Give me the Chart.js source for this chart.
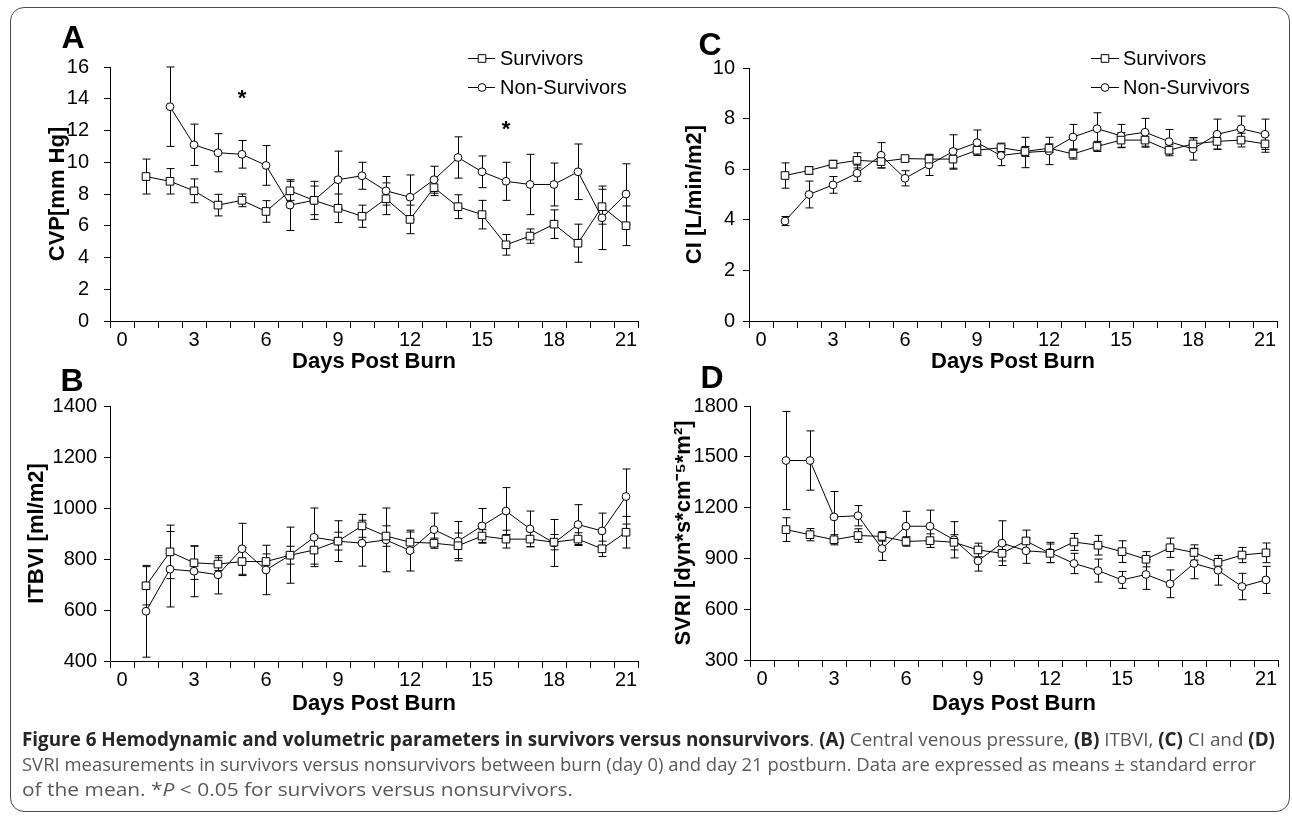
<!DOCTYPE html>
<html>
<head>
<meta charset="utf-8">
<script src="https://cdn.jsdelivr.net/npm/chart.js@4.4.1/dist/chart.umd.min.js"></script>
<style>
html,body{margin:0;padding:0;background:#fff;}
#wrap{position:relative;width:1292px;height:816px;overflow:hidden;background:#fff;}
canvas{position:absolute;left:0;top:0;}
#frame{position:absolute;left:10px;top:7px;width:1280px;height:805px;border:1.5px solid #4a4a4a;border-radius:14px;box-sizing:border-box;}
.letter{position:absolute;font:bold 32px "Liberation Sans",Arial,sans-serif;line-height:32px;transform:translate(-50%,-50%);color:#000;}
.cap{position:absolute;left:22px;white-space:nowrap;font-family:"Open Sans",sans-serif;font-size:19px;line-height:22px;color:#595959;transform-origin:0 50%;}
.cap b{color:#262626;font-weight:700;}
</style>
</head>
<body>
<div id="wrap">
  <div id="frame"></div>
  <canvas id="cA" width="1292" height="816"></canvas>
  <canvas id="cB" width="1292" height="816"></canvas>
  <canvas id="cC" width="1292" height="816"></canvas>
  <canvas id="cD" width="1292" height="816"></canvas>
  <div class="letter" style="left:73px;top:37px">A</div>
  <div class="letter" style="left:710px;top:44px">C</div>
  <div class="letter" style="left:72px;top:380px">B</div>
  <div class="letter" style="left:712px;top:377px">D</div>
  <div class="cap" id="cap1" style="top:728px"><b>Figure 6 Hemodynamic and volumetric parameters in survivors versus nonsurvivors</b>. <b>(A)</b> Central venous pressure, <b>(B)</b> ITBVI, <b>(C)</b> CI and <b>(D)</b></div>
  <div class="cap" id="cap2" style="top:753px">SVRI measurements in survivors versus nonsurvivors between burn (day 0) and day 21 postburn. Data are expressed as means ± standard error</div>
  <div class="cap" id="cap3" style="top:778px">of the mean. *<i>P</i> &lt; 0.05 for survivors versus nonsurvivors.</div>
</div>
<script>
// ---------------- DATA ----------------
const days = [1,2,3,4,5,6,7,8,9,10,11,12,13,14,15,16,17,18,19,20,21];
const xTickLabels = [0,3,6,9,12,15,18,21];
const seriesNames = ['Survivors','Non-Survivors'];

// Panel A: CVP [mm Hg]
const cvpTicks = [0,2,4,6,8,10,12,14,16];
const cvpSurv   = [9.1,8.8,8.2,7.3,7.6,6.9,8.2,7.6,7.1,6.6,7.7,6.4,8.4,7.2,6.7,4.8,5.35,6.1,4.9,7.2,6.0];
const cvpSurvSE = [1.1,0.8,0.75,0.68,0.4,0.68,0.6,0.9,0.9,0.7,1.0,0.9,0.5,0.75,0.9,0.65,0.45,0.9,1.2,1.1,1.25];
const cvpNon    = [null,13.5,11.1,10.6,10.5,9.8,7.3,7.6,8.9,9.15,8.2,7.8,8.9,10.3,9.4,8.8,8.6,8.6,9.4,6.5,8.0];
const cvpNonSE  = [null,2.5,1.3,1.2,0.87,1.25,1.6,1.2,1.8,0.85,0.9,1.4,0.85,1.3,1.0,1.2,1.9,1.35,1.75,2.0,1.9];
const starDays  = [5,16];
const starCVP   = [14.4,12.5];

// Panel B: ITBVI [ml/m2]
const itbviTicks = [400,600,800,1000,1200,1400];
const itbviSurv   = [695,828,785,780,790,790,815,835,870,930,890,866,862,852,890,878,878,866,878,840,905];
const itbviSurvSE = [75,105,65,25,55,30,35,55,35,45,40,40,20,50,25,35,30,30,25,30,62];
const itbviNon    = [595,760,752,738,840,757,815,885,870,862,875,833,915,870,930,988,918,863,935,910,1045];
const itbviNonSE  = [180,148,100,75,100,97,110,115,80,90,125,80,65,77,68,92,70,92,78,70,108];

// Panel C: CI [L/min/m2]
const ciTicks = [0,2,4,6,8,10];
const ciSurv   = [5.75,5.95,6.2,6.35,6.3,6.42,6.4,6.4,6.75,6.85,6.7,6.83,6.6,6.9,7.15,7.15,6.75,7.0,7.1,7.15,7.0];
const ciSurvSE = [0.5,0.15,0.15,0.3,0.25,0.1,0.15,0.4,0.2,0.18,0.2,0.17,0.2,0.2,0.3,0.28,0.22,0.25,0.3,0.27,0.33];
const ciNon    = [3.95,5.0,5.38,5.84,6.55,5.64,6.17,6.7,7.05,6.54,6.66,6.72,7.27,7.6,7.32,7.46,7.09,6.8,7.38,7.6,7.38];
const ciNonSE  = [0.18,0.53,0.33,0.32,0.5,0.3,0.42,0.66,0.5,0.4,0.6,0.54,0.5,0.63,0.45,0.55,0.48,0.44,0.6,0.5,0.6];

// Panel D: SVRI
const svriTicks = [300,600,900,1200,1500,1800];
const svriSurv   = [1070,1040,1010,1035,1030,1000,1005,995,950,930,1003,930,997,978,940,895,963,935,877,920,933];
const svriSurvSE = [70,36,30,40,28,28,40,45,40,45,64,55,50,58,64,45,57,45,40,45,58];
const svriNon    = [1478,1478,1145,1152,958,1090,1090,1010,885,990,945,935,870,828,773,805,750,870,830,734,773];
const svriNonSE  = [290,175,150,60,70,88,95,107,60,132,74,60,60,68,50,88,82,90,88,78,80];

// ---------------- STYLE / LAYOUT ----------------
const FONT = "'Liberation Sans', Arial, Helvetica, sans-serif";
const W = 1292, H = 816;
const SQ_R = 5.4, CI_R = 3.9, CAP = 4;

const xTickValues = [];
for (let v = -0.5; v <= 21.5 + 1e-9; v += 0.5) xTickValues.push(Math.round(v * 2) / 2);

const errorBarPlugin = {
  id: 'errBars',
  beforeDatasetsDraw(chart, args, opts) {
    const ctx = chart.ctx, xs = chart.scales.x, ys = chart.scales.y;
    ctx.save();
    ctx.strokeStyle = '#000';
    ctx.lineWidth = 1;
    opts.series.forEach(s => {
      days.forEach((d, i) => {
        const m = s.mean[i], e = s.se[i];
        if (m === null || e === null) return;
        const x = Math.round(xs.getPixelForValue(d)) + 0.5;
        const yt = ys.getPixelForValue(m + e), yb = ys.getPixelForValue(m - e);
        ctx.beginPath();
        ctx.moveTo(x, yt); ctx.lineTo(x, yb);
        ctx.moveTo(x - CAP, yt); ctx.lineTo(x + CAP, yt);
        ctx.moveTo(x - CAP, yb); ctx.lineTo(x + CAP, yb);
        ctx.stroke();
      });
    });
    ctx.restore();
  }
};

function drawMarker(ctx, style, x, y) {
  ctx.beginPath();
  if (style === 'rect') {
    const h = SQ_R * Math.SQRT1_2;
    ctx.rect(x - h, y - h, 2 * h, 2 * h);
  } else {
    ctx.arc(x, y, CI_R, 0, Math.PI * 2);
  }
  ctx.fillStyle = '#fff';
  ctx.fill();
  ctx.lineWidth = 1;
  ctx.strokeStyle = '#000';
  ctx.stroke();
}

const legendPlugin = {
  id: 'panelLegend',
  afterDraw(chart, args, opts) {
    if (!opts.show) return;
    const ctx = chart.ctx;
    ctx.save();
    const styles = ['rect', 'circle'];
    seriesNames.forEach((name, i) => {
      const y = opts.rows[i];
      ctx.beginPath();
      ctx.strokeStyle = '#000'; ctx.lineWidth = 1;
      ctx.moveTo(opts.x0, y + 0.5); ctx.lineTo(opts.x1, y + 0.5); ctx.stroke();
      drawMarker(ctx, styles[i], opts.mx, y + 0.5);
      ctx.fillStyle = '#000';
      ctx.font = '20px ' + FONT;
      ctx.textBaseline = 'middle';
      ctx.textAlign = 'left';
      ctx.fillText(name, opts.tx, y + 1);
    });
    ctx.restore();
  }
};

const starPlugin = {
  id: 'stars',
  afterDraw(chart, args, opts) {
    if (!opts.days) return;
    const ctx = chart.ctx, xs = chart.scales.x, ys = chart.scales.y;
    ctx.save();
    ctx.fillStyle = '#000';
    ctx.font = 'bold 22px ' + FONT;
    ctx.textAlign = 'center';
    ctx.textBaseline = 'alphabetic';
    opts.days.forEach((d, i) => {
      ctx.fillText('*', xs.getPixelForValue(d), ys.getPixelForValue(opts.values[i]) + 13);
    });
    ctx.restore();
  }
};

function makePanel(id, p) {
  const TL = 26.4; // title line height (22px * 1.2)
  const scaleLeft = p.yTitleX - TL / 2;
  const YW = p.area.left - scaleLeft;
  const XH = p.xTitleOff + TL / 2;
  const mk = (vals) => days.map((d, i) => ({x: d, y: vals[i]}));
  new Chart(document.getElementById(id), {
    type: 'line',
    data: {
      datasets: [
        {label: seriesNames[0], data: mk(p.surv), borderColor: '#000', borderWidth: 1,
         pointStyle: 'rect', pointRadius: SQ_R, pointBackgroundColor: '#fff', pointBorderColor: '#000',
         pointBorderWidth: 1, tension: 0, fill: false},
        {label: seriesNames[1], data: mk(p.non), borderColor: '#000', borderWidth: 1,
         pointStyle: 'circle', pointRadius: CI_R, pointBackgroundColor: '#fff', pointBorderColor: '#000',
         pointBorderWidth: 1, tension: 0, fill: false}
      ]
    },
    options: {
      responsive: false, animation: false, devicePixelRatio: 1,
      events: [],
      layout: {padding: {left: scaleLeft, top: p.area.top, right: W - p.area.right, bottom: H - p.area.bottom - XH}},
      plugins: {
        legend: {display: false}, tooltip: {enabled: false},
        errBars: {series: [{mean: p.surv, se: p.survSE}, {mean: p.non, se: p.nonSE}]},
        panelLegend: p.legend || {show: false},
        stars: p.stars || {}
      },
      scales: {
        x: {
          type: 'linear', min: -0.5, max: 21.5,
          afterFit: s => { s.height = XH; },
          afterBuildTicks: s => { s.ticks = xTickValues.map(v => ({value: v})); },
          ticks: {autoSkip: false, maxRotation: 0, minRotation: 0, padding: 0, color: '#000',
                  font: {family: FONT, size: 20},
                  callback: v => xTickLabels.includes(v) ? String(v) : ''},
          grid: {drawOnChartArea: false, drawTicks: true, tickLength: 7, tickWidth: 1,
                 tickColor: c => (c.tick && Number.isInteger(c.tick.value)) ? 'rgba(0,0,0,0)' : '#000'},
          border: {display: true, color: '#000', width: 1},
          title: {display: true, text: 'Days Post Burn', color: '#000',
                  font: {family: FONT, size: 22, weight: 'bold'}, padding: {top: 0, bottom: 0}}
        },
        y: {
          type: 'linear', min: p.yMin, max: p.yMax,
          afterFit: s => { s.width = YW; },
          afterBuildTicks: s => { s.ticks = p.yTicks.map(v => ({value: v})); },
          ticks: {padding: p.tickPad, color: '#000', font: {family: FONT, size: 20},
                  callback: v => String(v)},
          grid: {drawOnChartArea: false, drawTicks: true, tickLength: 6, tickColor: '#000', tickWidth: 1},
          border: {display: true, color: '#000', width: 1},
          title: {display: true, text: p.yTitle, color: '#000',
                  font: {family: FONT, size: 22, weight: 'bold'}, padding: {top: 0, bottom: 0}}
        }
      }
    },
    plugins: [errorBarPlugin, legendPlugin, starPlugin]
  });
}

makePanel('cA', {
  area: {left: 110, top: 67, right: 638, bottom: 321},
  yMin: 0, yMax: 16, yTicks: cvpTicks, yTitle: 'CVP[mm Hg]', yTitleX: 58, tickPad: 15, xTitleOff: 41,
  surv: cvpSurv, survSE: cvpSurvSE, non: cvpNon, nonSE: cvpNonSE,
  legend: {show: true, x0: 468, x1: 495, mx: 482, tx: 500, rows: [58, 87]},
  stars: {days: starDays, values: starCVP}
});
makePanel('cC', {
  area: {left: 749, top: 68, right: 1277, bottom: 321},
  yMin: 0, yMax: 10, yTicks: ciTicks, yTitle: 'CI [L/min/m2]', yTitleX: 695, tickPad: 8, xTitleOff: 41,
  surv: ciSurv, survSE: ciSurvSE, non: ciNon, nonSE: ciNonSE,
  legend: {show: true, x0: 1091, x1: 1119, mx: 1105, tx: 1123, rows: [58, 87]}
});
makePanel('cB', {
  area: {left: 110, top: 406, right: 638, bottom: 661},
  yMin: 400, yMax: 1400, yTicks: itbviTicks, yTitle: 'ITBVI [ml/m2]', yTitleX: 37, tickPad: 7, xTitleOff: 43,
  surv: itbviSurv, survSE: itbviSurvSE, non: itbviNon, nonSE: itbviNonSE
});
makePanel('cD', {
  area: {left: 750, top: 406, right: 1278, bottom: 660},
  yMin: 300, yMax: 1800, yTicks: svriTicks, yTitle: 'SVRI [dyn*s*cm\u207B\u2075*m\u00B2]', yTitleX: 684, tickPad: 6, xTitleOff: 44,
  surv: svriSurv, survSE: svriSurvSE, non: svriNon, nonSE: svriNonSE
});

// caption line widths fitted to the reference
const capTargets = {cap1: 1253, cap2: 1234, cap3: 551};
Object.keys(capTargets).forEach(id => {
  const el = document.getElementById(id);
  const w = el.getBoundingClientRect().width;
  if (w > 0) el.style.transform = 'scaleX(' + (capTargets[id] / w) + ')';
});
</script>
</body>
</html>
